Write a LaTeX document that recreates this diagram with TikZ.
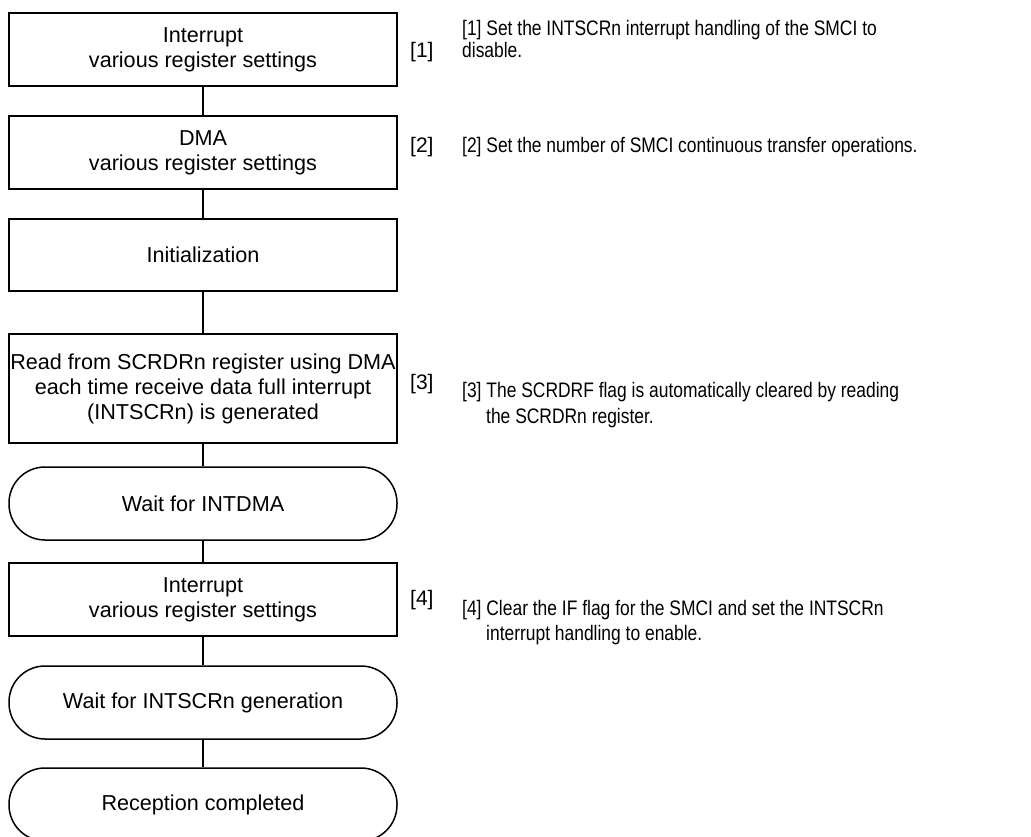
\documentclass[tikz,border=0pt]{standalone}
\usepackage{fontspec}
\setmainfont{Liberation Sans}
\newfontfamily\narrowfont[FakeStretch=0.83]{Liberation Sans}
\begin{document}
\begin{tikzpicture}[x=1pt,y=-1pt,
  box/.style={draw, line width=1.5pt, minimum width=388pt, minimum height=73pt, inner sep=0pt, align=center, font=\fontsize{21.6}{25}\selectfont},
  term/.style={box, rounded corners=36pt},
  conn/.style={line width=1.5pt},
  tag/.style={anchor=base west, inner sep=0pt, font=\fontsize{21}{25}\selectfont},
  desc/.style={anchor=base west, inner sep=0pt, font=\narrowfont\fontsize{21}{25}\selectfont}]
\useasboundingbox (0,0) rectangle (1031,836);

\node[box] (b1) at (203,49.5) {Interrupt\\various register settings};
\node[box] (b2) at (203,152.5) {DMA\\various register settings};
\node[box, minimum height=72pt] (b3) at (203,255) {Initialization};
\node[box, minimum height=109pt] (b4) at (203,388.5) {Read from SCRDRn register using DMA\\each time receive data full interrupt\\(INTSCRn) is generated};
\node[term] (t1) at (203,503.5) {Wait for INTDMA};
\node[box] (b5) at (203,599.5) {Interrupt\\various register settings};
\node[term] (t2) at (203,702.5) {Wait for INTSCRn generation};
\node[term] (t3) at (203,804.5) {Reception completed};

\draw[conn] (b1) -- (b2);
\draw[conn] (b2) -- (b3);
\draw[conn] (b3) -- (b4);
\draw[conn] (b4) -- (t1);
\draw[conn] (t1) -- (b5);
\draw[conn] (b5) -- (t2);
\draw[conn] (t2) -- (t3);

\node[tag] (l1) at (410,57) {[1]};
\node[tag] (l2) at (410,152) {[2]};
\node[tag] (l3) at (410,389) {[3]};
\node[tag] (l4) at (410,605) {[4]};

\node[desc] (d1a) at (462,35) {[1] Set the INTSCRn interrupt handling of the SMCI to};
\node[desc] (d1b) at (462,57) {disable.};
\node[desc] (d2) at (462,152) {[2] Set the number of SMCI continuous transfer operations.};
\node[desc] (d3a) at (462,397) {[3] The SCRDRF flag is automatically cleared by reading};
\node[desc] (d3b) at (486,423) {the SCRDRn register.};
\node[desc] (d4a) at (462,615) {[4] Clear the IF flag for the SMCI and set the INTSCRn};
\node[desc] (d4b) at (486,640) {interrupt handling to enable.};
\end{tikzpicture}
\end{document}
